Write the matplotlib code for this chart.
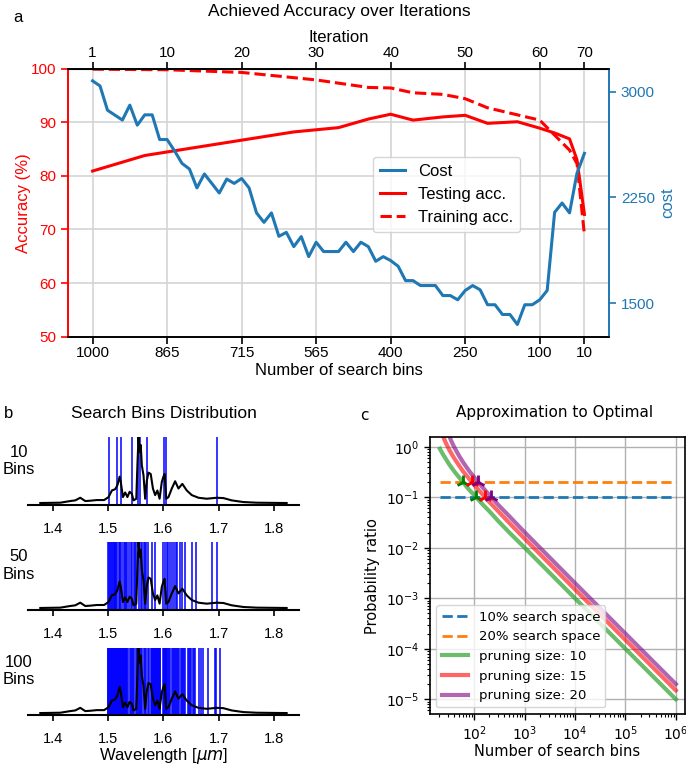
import matplotlib
matplotlib.use("Agg")
import matplotlib.pyplot as plt

plt.rcParams["font.family"] = ["Liberation Sans", "DejaVu Sans"]

# ---------------- panel a: accuracy / cost over iterations ----------------
cost = [3076, 3040, 2868, 2833, 2798, 2904, 2762, 2835, 2835, 2660,
        2660, 2580, 2491, 2451, 2317, 2416, 2349, 2281, 2380, 2349,
        2384, 2317, 2140, 2073, 2140, 1974, 2002, 1901, 1972, 1830,
        1932, 1866, 1866, 1866, 1932, 1866, 1932, 1901, 1797, 1830,
        1802, 1762, 1660, 1660, 1625, 1625, 1625, 1554, 1554, 1524,
        1590, 1625, 1595, 1489, 1489, 1420, 1420, 1349, 1489, 1489,
        1524, 1590, 2144, 2210, 2140, 2421, 2562]
iter_idx = list(range(len(cost)))

test_iter = [0, 7, 27, 33, 37, 40, 43, 47, 50, 53, 57, 60, 62, 64, 65, 66]
test_acc = [80.9, 83.8, 88.2, 89.0, 90.6, 91.5, 90.4, 91.0, 91.3, 89.8,
            90.1, 88.9, 88.0, 86.9, 83.0, 72.8]

train_iter = [0, 10, 20, 30, 37, 40, 43, 47, 50, 53, 60, 62, 64, 65, 66]
train_acc = [99.9, 99.8, 99.3, 97.9, 96.5, 96.4, 95.5, 95.2, 94.4, 92.7,
             90.4, 87.6, 84.8, 82.3, 69.0]

tick_pos = [0, 10, 20, 30, 40, 50, 60, 66]
iter_labels = ["1", "10", "20", "30", "40", "50", "60", "70"]
bins_labels = ["1000", "865", "715", "565", "400", "250", "100", "10"]
acc_ticks = [50, 60, 70, 80, 90, 100]
cost_ticks = [1500, 2250, 3000]

# ---------------- panel b: spectrum and selected bins ----------------
spec_wl = [1.378, 1.414, 1.432, 1.441, 1.450, 1.459, 1.468, 1.480, 1.493, 1.501,
           1.507, 1.513, 1.517, 1.521, 1.523, 1.527, 1.531, 1.535, 1.539, 1.543,
           1.546, 1.551, 1.553, 1.555, 1.557, 1.559, 1.561, 1.564, 1.567, 1.570,
           1.573, 1.577, 1.581, 1.585, 1.589, 1.593, 1.597, 1.600, 1.602, 1.605,
           1.609, 1.615, 1.621, 1.627, 1.634, 1.642, 1.651, 1.663, 1.678, 1.696,
           1.708, 1.723, 1.744, 1.768, 1.822]
spec_val = [0.0, 0.005, 0.03, 0.04, 0.08, 0.03, 0.035, 0.045, 0.045, 0.09,
            0.19, 0.21, 0.27, 0.40, 0.32, 0.09, 0.16, 0.09, 0.17, 0.14,
            0.04, 0.065, 0.57, 1.0, 0.77, 0.88, 0.57, 0.42, 0.065, 0.34,
            0.46, 0.44, 0.22, 0.12, 0.19, 0.065, 0.32, 0.40, 0.44, 0.065,
            0.09, 0.22, 0.33, 0.22, 0.29, 0.19, 0.12, 0.08, 0.065, 0.08,
            0.075, 0.04, 0.015, 0.005, 0.0]

bins_10 = [1.5014, 1.5164, 1.5231, 1.5429, 1.5549, 1.5575, 1.5699, 1.6017,
           1.6041, 1.6965]
bins_50 = [1.500, 1.5015, 1.503, 1.505, 1.507, 1.5085, 1.510, 1.512, 1.5135, 1.515,
           1.517, 1.519, 1.521, 1.5225, 1.525, 1.528, 1.530, 1.533, 1.535, 1.538,
           1.541, 1.544, 1.546, 1.549, 1.551, 1.5565, 1.559, 1.561, 1.564, 1.566,
           1.569, 1.572, 1.580, 1.585, 1.600, 1.603, 1.606, 1.609, 1.612, 1.615,
           1.619, 1.622, 1.625, 1.629, 1.633, 1.639, 1.651, 1.658, 1.687, 1.697]
bins_100 = [1.5000, 1.5009, 1.5018, 1.5036, 1.5045, 1.5054, 1.5072, 1.5081, 1.5090, 1.5108,
            1.5117, 1.5126, 1.5144, 1.5153, 1.5162, 1.5180, 1.5189, 1.5198, 1.5216, 1.5225,
            1.5234, 1.5252, 1.5261, 1.5270, 1.5288, 1.5297, 1.5306, 1.5324, 1.5333, 1.5342,
            1.5360, 1.5390, 1.5408, 1.5426, 1.5444, 1.5462, 1.5500, 1.5518, 1.5536, 1.5554,
            1.5572, 1.5590, 1.5608, 1.5650, 1.5668, 1.5686, 1.5718, 1.5736, 1.5780, 1.5789,
            1.5798, 1.5816, 1.5825, 1.5834, 1.5852, 1.5861, 1.5870, 1.5888, 1.5897, 1.5906,
            1.5924, 1.5933, 1.5942, 1.5990, 1.6008, 1.6017, 1.6026, 1.6044, 1.6053, 1.6062,
            1.6080, 1.6098, 1.6116, 1.6160, 1.6178, 1.6196, 1.6214, 1.6232, 1.6250, 1.6268,
            1.6286, 1.6320, 1.6338, 1.6356, 1.6374, 1.6392, 1.6440, 1.6458, 1.6476, 1.6494,
            1.6530, 1.6548, 1.6566, 1.6635, 1.6685, 1.6705, 1.6800, 1.6920, 1.6940, 1.7010]
bin_sets = [bins_10, bins_50, bins_100]
bin_names = ["10\nBins", "50\nBins", "100\nBins"]
wl_ticks = [1.4, 1.5, 1.6, 1.7, 1.8]

# ---------------- panel c: approximation to optimal ----------------
n_k10 = [21, 23, 25, 28, 32, 40, 50, 60, 80, 110, 150, 200, 300, 500, 1e3, 1e4, 1e5, 1e6]
p_k10 = [0.91, 0.77, 0.67, 0.56, 0.45, 0.33, 0.25, 0.2, 0.14, 0.1, 0.071, 0.053,
         0.034, 0.020, 0.0101, 1.0e-3, 1.0e-4, 1.0e-5]
n_k15 = [23, 25, 28, 32, 40, 50, 60, 90, 120, 165, 200, 300, 500, 1e3, 1e4, 1e5, 1e6]
p_k15 = [1.88, 1.5, 1.15, 0.88, 0.6, 0.43, 0.33, 0.2, 0.143, 0.1, 0.081, 0.053,
         0.031, 0.0152, 1.5e-3, 1.5e-4, 1.5e-5]
n_k20 = [30, 32, 35, 40, 50, 60, 80, 120, 160, 220, 300, 500, 1e3, 1e4, 1e5, 1e6]
p_k20 = [2.0, 1.67, 1.33, 1.0, 0.67, 0.5, 0.33, 0.2, 0.143, 0.1, 0.071, 0.042,
         0.0204, 2.0e-3, 2.0e-4, 2.0e-5]
space_n = [21, 1e6]
space_10 = [0.1, 0.1]
space_20 = [0.2, 0.2]
cross_n_20 = [60, 90, 120]
cross_n_10 = [110, 165, 220]
prune_labels = ["pruning size: 10", "pruning size: 15", "pruning size: 20"]

fig = plt.figure(figsize=(6.86, 7.69), dpi=100)

# ======== panel a ========
blue = "#1f77b4"
ax = fig.add_axes([0.0991, 0.5622, 0.7887, 0.3485])
l_test, = ax.plot(test_iter, test_acc, color="red", lw=2.2)
l_train, = ax.plot(train_iter, train_acc, color="red", lw=2.2, ls="--")
ax.set_xlim(-3.3, 69.3)
ax.set_ylim(50, 100)
ax.set_yticks(acc_ticks)
ax.set_xticks(tick_pos)
ax.set_xticklabels(bins_labels)
ax.grid(True, color="#d4d4d4", lw=1.2)
ax.set_axisbelow(True)
ax.set_xlabel("Number of search bins", fontsize=12, labelpad=2)
ax.set_ylabel("Accuracy (%)", color="red", fontsize=12, labelpad=0)
ax.tick_params(axis="y", colors="red", labelsize=11, length=5, width=1.2)
ax.tick_params(axis="x", labelsize=11, length=5, width=1.2, pad=2)

axr = ax.twinx()
l_cost, = axr.plot(iter_idx, cost, color=blue, lw=2.2)
axr.set_yticks(cost_ticks)
axr.set_ylabel("cost", color=blue, fontsize=12)
axr.tick_params(axis="y", colors=blue, labelsize=11, length=5, width=1.2)

for a_ in (ax, axr):
    a_.spines["left"].set_color("red")
    a_.spines["right"].set_color(blue)
    for s in a_.spines.values():
        s.set_linewidth(1.2)

top = ax.secondary_xaxis("top")
top.set_xticks(tick_pos, labels=iter_labels)
top.tick_params(labelsize=11, length=5, width=1.2, pad=1)
top.set_xlabel("Iteration", fontsize=12, labelpad=3)

axr.legend([l_cost, l_test, l_train], ["Cost", "Testing acc.", "Training acc."],
           loc="upper left", bbox_to_anchor=(0.564, 0.6705), borderaxespad=0,
           fontsize=12, handlelength=1.5)

fig.text(0.494, 0.9844, "Achieved Accuracy over Iterations", fontsize=12.5,
         ha="center", va="center")
fig.text(0.026, 0.9766, "a", fontsize=12, ha="center", va="center")

# ======== panel b ========
b_rects = [[0.0408, 0.3433, 0.395, 0.0884],
           [0.0408, 0.2068, 0.395, 0.0888],
           [0.0408, 0.0702, 0.395, 0.0875]]
for rect, bins, name in zip(b_rects, bin_sets, bin_names):
    bx = fig.add_axes(rect)
    bx.vlines(bins, 0, 1, transform=bx.get_xaxis_transform(), color="blue", lw=1.1)
    bx.plot(spec_wl, spec_val, color="black", lw=1.5)
    bx.set_ylim(-0.03, 1.0)
    bx.set_xticks(wl_ticks)
    bx.set_yticks([])
    for side in ("left", "right", "top"):
        bx.spines[side].set_visible(False)
    bx.spines["bottom"].set_linewidth(1.5)
    bx.tick_params(axis="x", labelsize=10.5, length=4, width=1.2, pad=8)
    bx.text(-0.035, 0.65, name, transform=bx.transAxes, fontsize=12,
            ha="center", va="center")
bx.set_xlabel(r"Wavelength [$\mu m$]", fontsize=12, labelpad=0)

fig.text(0.2384, 1 - 413 / 769, "Search Bins Distribution", fontsize=12.5,
         ha="center", va="center")
fig.text(0.006, 1 - 413 / 769, "b", fontsize=12, ha="left", va="center")

# ======== panel c ========
dv = "DejaVu Sans"
cx = fig.add_axes([0.6264, 0.0715, 0.3717, 0.3598])
cx.plot(space_n, space_10, color="tab:blue", ls="--", lw=2, label="10% search space")
cx.plot(space_n, space_20, color="tab:orange", ls="--", lw=2, label="20% search space")
cx.plot(n_k10, p_k10, color="tab:green", alpha=0.7, lw=3, label=prune_labels[0])
cx.plot(n_k15, p_k15, color="red", alpha=0.6, lw=3, label=prune_labels[1])
cx.plot(n_k20, p_k20, color="purple", alpha=0.6, lw=3, label=prune_labels[2])
for n20, n10, col in zip(cross_n_20, cross_n_10, ["green", "red", "purple"]):
    cx.plot([n20, n10], [space_20[0], space_10[0]], ls="none", marker="2",
            ms=10, mew=2, color=col)
cx.set_xscale("log")
cx.set_yscale("log")
cx.set_xlim(13.2, 1.5e6)
cx.set_ylim(5.1e-6, 1.535)
cx.grid(True, which="major", color="#b0b0b0", lw=1)
cx.set_axisbelow(True)
for s in cx.spines.values():
    s.set_linewidth(1.2)
cx.tick_params(which="major", labelsize=10, length=4, width=1)
cx.tick_params(which="minor", length=2.5, width=0.8)
for lbl in cx.get_xticklabels() + cx.get_yticklabels():
    lbl.set_fontfamily(dv)
cx.set_xlabel("Number of search bins", fontsize=10.5, fontfamily=dv, labelpad=1)
cx.set_ylabel("Probability ratio", fontsize=10.5, fontfamily=dv)
cx.legend(loc="lower left", prop={"family": dv, "size": 9.5})

fig.text(554.7 / 686, 1 - 412.7 / 769, "Approximation to Optimal", fontsize=11,
         fontfamily=dv, ha="center", va="center")
fig.text(364.7 / 686, 1 - 415 / 769, "c", fontsize=11, fontfamily=dv,
         ha="center", va="center")

fig.savefig("out.png", dpi=100)
